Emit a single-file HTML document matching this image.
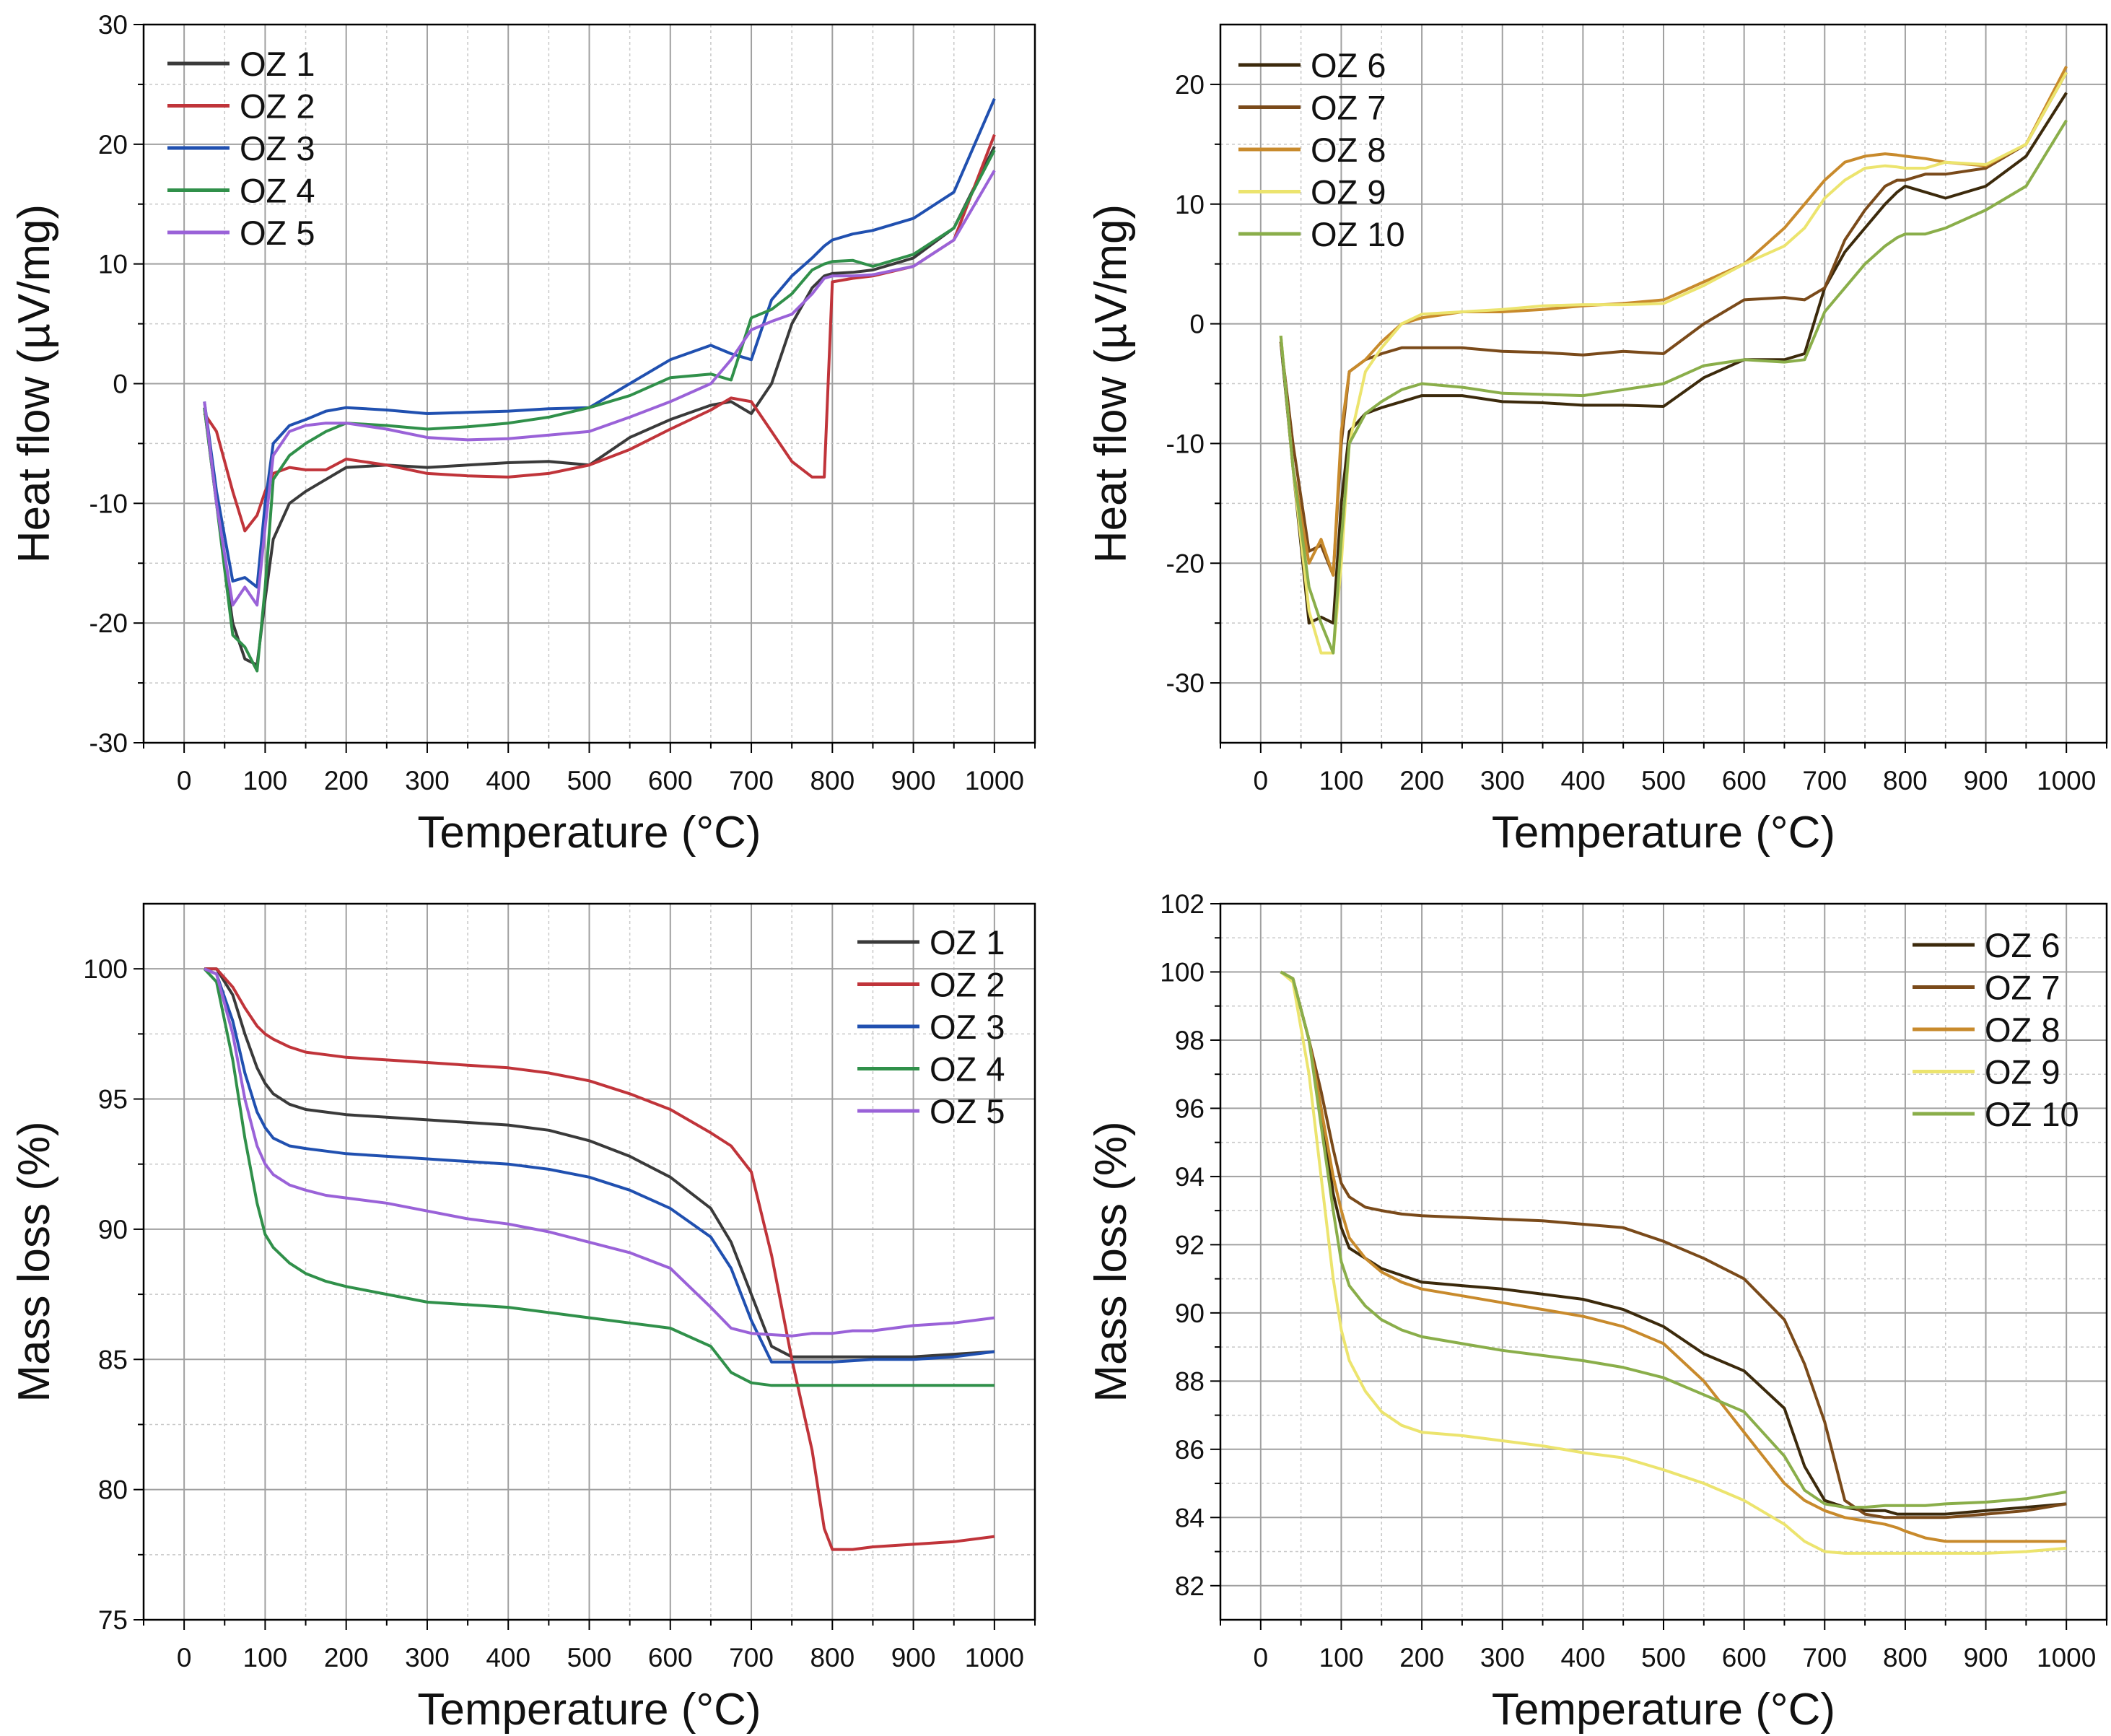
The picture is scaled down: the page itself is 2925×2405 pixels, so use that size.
<!DOCTYPE html>
<html><head><meta charset="utf-8"><style>
body{margin:0;background:#fff}
svg{display:block;font-family:"Liberation Sans",Arial,sans-serif}
</style></head><body>
<svg id="root" width="2925" height="2405" viewBox="0 0 2925 2405" xmlns="http://www.w3.org/2000/svg"></svg>
<script>
const temps=[25,40,60,75,90,100,110,130,150,175,200,250,300,350,400,450,500,550,600,650,675,700,725,750,775,790,800,825,850,900,950,1000];
const xTicks=[0,100,200,300,400,500,600,700,800,900,1000];

const hfNames1=["OZ 1","OZ 2","OZ 3","OZ 4","OZ 5"];
const hf1=[-2,-10,-20,-23,-23.5,-18,-13,-10,-9,-8,-7,-6.8,-7,-6.8,-6.6,-6.5,-6.8,-4.5,-3,-1.8,-1.5,-2.5,0,5,8,9,9.2,9.3,9.5,10.5,13,19.8];
const hf2=[-2.5,-4,-9,-12.3,-11,-9,-7.5,-7,-7.2,-7.2,-6.3,-6.8,-7.5,-7.7,-7.8,-7.5,-6.8,-5.5,-3.8,-2.2,-1.2,-1.5,-4,-6.5,-7.8,-7.8,8.5,8.8,9,9.8,12,20.8];
const hf3=[-1.5,-9,-16.5,-16.2,-17,-10,-5,-3.5,-3,-2.3,-2,-2.2,-2.5,-2.4,-2.3,-2.1,-2,0,2,3.2,2.5,2,7,9,10.5,11.5,12,12.5,12.8,13.8,16,23.8];
const hf4=[-2,-10,-21,-22,-24,-17,-8,-6,-5,-4,-3.3,-3.5,-3.8,-3.6,-3.3,-2.8,-2,-1,0.5,0.8,0.3,5.5,6.2,7.5,9.5,10,10.2,10.3,9.8,10.8,13,19.5];
const hf5=[-1.5,-10,-18.5,-17,-18.5,-12,-6,-4,-3.5,-3.3,-3.3,-3.8,-4.5,-4.7,-4.6,-4.3,-4,-2.8,-1.5,0,2,4.5,5.2,5.8,7.5,8.8,9,9,9.1,9.8,12,17.8];

const hfNames2=["OZ 6","OZ 7","OZ 8","OZ 9","OZ 10"];
const hf6=[-1.5,-12,-25,-24.5,-25,-15,-9,-7.5,-7,-6.5,-6,-6,-6.5,-6.6,-6.8,-6.8,-6.9,-4.5,-3,-3,-2.5,3,6,8,10,11,11.5,11,10.5,11.5,14,19.3];
const hf7=[-1.5,-10,-19,-18.5,-21,-10,-4,-3,-2.5,-2,-2,-2,-2.3,-2.4,-2.6,-2.3,-2.5,0,2,2.2,2,3,7,9.5,11.5,12,12,12.5,12.5,13,15,21];
const hf8=[-1,-12,-20,-18,-21,-9,-4,-3,-1.5,0,0.5,1,1,1.2,1.5,1.7,2,3.5,5,8,10,12,13.5,14,14.2,14.1,14,13.8,13.5,13.2,15,21.5];
const hf9=[-1,-12,-24,-27.5,-27.5,-20,-10,-4,-2,0,0.8,1,1.2,1.5,1.6,1.6,1.7,3.2,5,6.5,8,10.5,12,13,13.2,13.1,13,13,13.5,13.3,15,21];
const hf10=[-1,-12,-22,-25,-27.5,-18,-10,-7.5,-6.5,-5.5,-5,-5.3,-5.8,-5.9,-6,-5.5,-5,-3.5,-3,-3.2,-3,1,3,5,6.5,7.2,7.5,7.5,8,9.5,11.5,17];

const ml1=[100,100,99,97.5,96.2,95.6,95.2,94.8,94.6,94.5,94.4,94.3,94.2,94.1,94,93.8,93.4,92.8,92,90.8,89.5,87.5,85.5,85.1,85.1,85.1,85.1,85.1,85.1,85.1,85.2,85.3];
const ml2=[100,100,99.3,98.5,97.8,97.5,97.3,97,96.8,96.7,96.6,96.5,96.4,96.3,96.2,96,95.7,95.2,94.6,93.7,93.2,92.2,89,85,81.5,78.5,77.7,77.7,77.8,77.9,78,78.2];
const ml3=[100,99.8,98,96,94.5,93.9,93.5,93.2,93.1,93,92.9,92.8,92.7,92.6,92.5,92.3,92,91.5,90.8,89.7,88.5,86.5,84.9,84.9,84.9,84.9,84.9,84.95,85,85,85.1,85.3];
const ml4=[100,99.5,96.5,93.5,91,89.8,89.3,88.7,88.3,88,87.8,87.5,87.2,87.1,87,86.8,86.6,86.4,86.2,85.5,84.5,84.1,84,84,84,84,84,84,84,84,84,84];
const ml5=[100,99.8,97.5,95,93.2,92.5,92.1,91.7,91.5,91.3,91.2,91,90.7,90.4,90.2,89.9,89.5,89.1,88.5,87,86.2,86,85.95,85.9,86,86,86,86.1,86.1,86.3,86.4,86.6];

const ml6=[100,99.8,98,96,93.5,92.5,91.9,91.6,91.3,91.1,90.9,90.8,90.7,90.55,90.4,90.1,89.6,88.8,88.3,87.2,85.5,84.5,84.3,84.2,84.2,84.1,84.1,84.1,84.1,84.2,84.3,84.4];
const ml7=[100,99.8,98,96.5,94.8,93.8,93.4,93.1,93,92.9,92.85,92.8,92.75,92.7,92.6,92.5,92.1,91.6,91,89.8,88.5,86.8,84.5,84.1,84,84,84,84,84,84.1,84.2,84.4];
const ml8=[100,99.8,98,96,94,93,92.2,91.6,91.2,90.9,90.7,90.5,90.3,90.1,89.9,89.6,89.1,88,86.5,85,84.5,84.2,84,83.9,83.8,83.7,83.6,83.4,83.3,83.3,83.3,83.3];
const ml9=[100,99.7,97,94,91,89.5,88.6,87.7,87.1,86.7,86.5,86.4,86.25,86.1,85.9,85.75,85.4,85,84.5,83.8,83.3,83,82.95,82.95,82.95,82.95,82.95,82.95,82.95,82.95,83,83.1];
const ml10=[100,99.8,98,95.5,93,91.5,90.8,90.2,89.8,89.5,89.3,89.1,88.9,88.75,88.6,88.4,88.1,87.6,87.1,85.8,84.8,84.4,84.3,84.3,84.35,84.35,84.35,84.35,84.4,84.45,84.55,84.75];

const yTicksTL=[-30,-20,-10,0,10,20,30];
const yTicksTR=[-30,-20,-10,0,10,20];
const yTicksBL=[75,80,85,90,95,100];
const yTicksBR=[82,84,86,88,90,92,94,96,98,100,102];

const NS="http://www.w3.org/2000/svg";
const root=document.getElementById('root');
function mk(tag,attrs,parent){const e=document.createElementNS(NS,tag);for(const k in attrs)e.setAttribute(k,attrs[k]);parent.appendChild(e);return e;}

function chart(o){
  const g=mk('g',{},root);
  
  
  const X=v=>o.L+(v+50)/1100*(o.R-o.L);
  const Y=v=>o.B-(v-o.y0)/(o.y1-o.y0)*(o.B-o.T);
  for(let t=0;t<=1000;t+=50){
    const ln=mk('line',{x1:X(t),x2:X(t),y1:o.T,y2:o.B,stroke:t%100===0?'#a0a0a0':'#c8c8c8','stroke-width':t%100===0?2:1.5,'stroke-dasharray':t%100===0?'':'4 4'},g);
    
    
  }
  for(let i=0;i<o.yt.length;i++){
    const v=o.yt[i];
    if(v>o.y0&&v<o.y1){const ln=mk('line',{x1:o.L,x2:o.R,y1:Y(v),y2:Y(v),stroke:'#a0a0a0','stroke-width':2},g);
      }
    if(i<o.yt.length-1){const m=(v+o.yt[i+1])/2;if(m>o.y0&&m<o.y1){const ln=mk('line',{x1:o.L,x2:o.R,y1:Y(m),y2:Y(m),stroke:'#c8c8c8','stroke-width':1.5,'stroke-dasharray':'4 4'},g);
      }
      mk('line',{x1:o.L-8,x2:o.L,y1:Y(m),y2:Y(m),stroke:'#000','stroke-width':2},g);}
    if(i===0){const m=v-(o.yt[1]-v)/2;if(m>o.y0){mk('line',{x1:o.L,x2:o.R,y1:Y(m),y2:Y(m),stroke:'#c8c8c8','stroke-width':1.5,'stroke-dasharray':'4 4'},g);mk('line',{x1:o.L-8,x2:o.L,y1:Y(m),y2:Y(m),stroke:'#000','stroke-width':2},g);}}
    mk('line',{x1:o.L-14,x2:o.L,y1:Y(v),y2:Y(v),stroke:'#000','stroke-width':2},g);
    const tx=mk('text',{x:o.L-22,y:Y(v)+13,'text-anchor':'end','font-size':37,fill:'#111'},g);
    tx.textContent=v;
    
    
  }
  for(let t=-50;t<=1050;t+=50){
    mk('line',{x1:X(t),x2:X(t),y1:o.B,y2:o.B+(t%100===0?14:8),stroke:'#000','stroke-width':2},g);
  }
  xTicks.forEach(t=>{
    const tx=mk('text',{x:X(t),y:o.B+65,'text-anchor':'middle','font-size':37,fill:'#111'},g);
    tx.textContent=t;
    
    
  });
  const fr=mk('rect',{x:o.L,y:o.T,width:o.R-o.L,height:o.B-o.T,fill:'none',stroke:'#000','stroke-width':2.5},g);
  
  
  o.series.forEach((s,i)=>{
    const pts=temps.map((t,j)=>X(t).toFixed(1)+','+Y(s[j]).toFixed(1)).join(' ');
    const pl=mk('polyline',{points:pts,fill:'none',stroke:o.colors[i],'stroke-width':4,'stroke-linejoin':'round'},g);
    
    
  });
  o.names.forEach((n,i)=>{
    const y=o.legY+i*58.5;
    const lg=mk('g',{},g);
    
    
    mk('line',{x1:o.legX,x2:o.legX+86,y1:y,y2:y,stroke:o.colors[i],'stroke-width':5},lg);
    const tx=mk('text',{x:o.legX+100,y:y+17,'font-size':47,fill:'#111'},lg);
    tx.textContent=n;
  });
  const xt=mk('text',{x:(o.L+o.R)/2,y:o.B+145,'text-anchor':'middle','font-size':62,fill:'#111'},g);
  xt.textContent='Temperature (°C)';
  
  
  const cy=(o.T+o.B)/2;
  const yt=mk('text',{x:o.ytx,y:cy,'text-anchor':'middle','font-size':62,fill:'#111',transform:`rotate(-90 ${o.ytx} ${cy})`},g);
  yt.textContent=o.ytitle;
  
  
}
const c1=['#3a3a3a','#c0343a','#2050b0','#30904a','#9a62d8'];
const c2=['#3c2a0c','#7a4a1a','#c88a2c','#ece46e','#8aae4a'];
chart({name:'heat-flow-chart-oz1-5',L:199,R:1434,T:34,B:1029,y0:-30,y1:30,yt:yTicksTL,series:[hf1,hf2,hf3,hf4,hf5],colors:c1,names:hfNames1,legX:232,legY:88,ytitle:'Heat flow (µV/mg)',ytx:68});
chart({name:'heat-flow-chart-oz6-10',L:1691,R:2919,T:34,B:1029,y0:-35,y1:25,yt:yTicksTR,series:[hf6,hf7,hf8,hf9,hf10],colors:c2,names:hfNames2,legX:1716,legY:90,ytitle:'Heat flow (µV/mg)',ytx:1560});
chart({name:'mass-loss-chart-oz1-5',L:199,R:1434,T:1252,B:2244,y0:75,y1:102.5,yt:yTicksBL,series:[ml1,ml2,ml3,ml4,ml5],colors:c1,names:hfNames1,legX:1188,legY:1305,ytitle:'Mass loss (%)',ytx:68});
chart({name:'mass-loss-chart-oz6-10',L:1691,R:2919,T:1252,B:2244,y0:81,y1:102,yt:yTicksBR,series:[ml6,ml7,ml8,ml9,ml10],colors:c2,names:hfNames2,legX:2650,legY:1309,ytitle:'Mass loss (%)',ytx:1560});
</script>
</body></html>
